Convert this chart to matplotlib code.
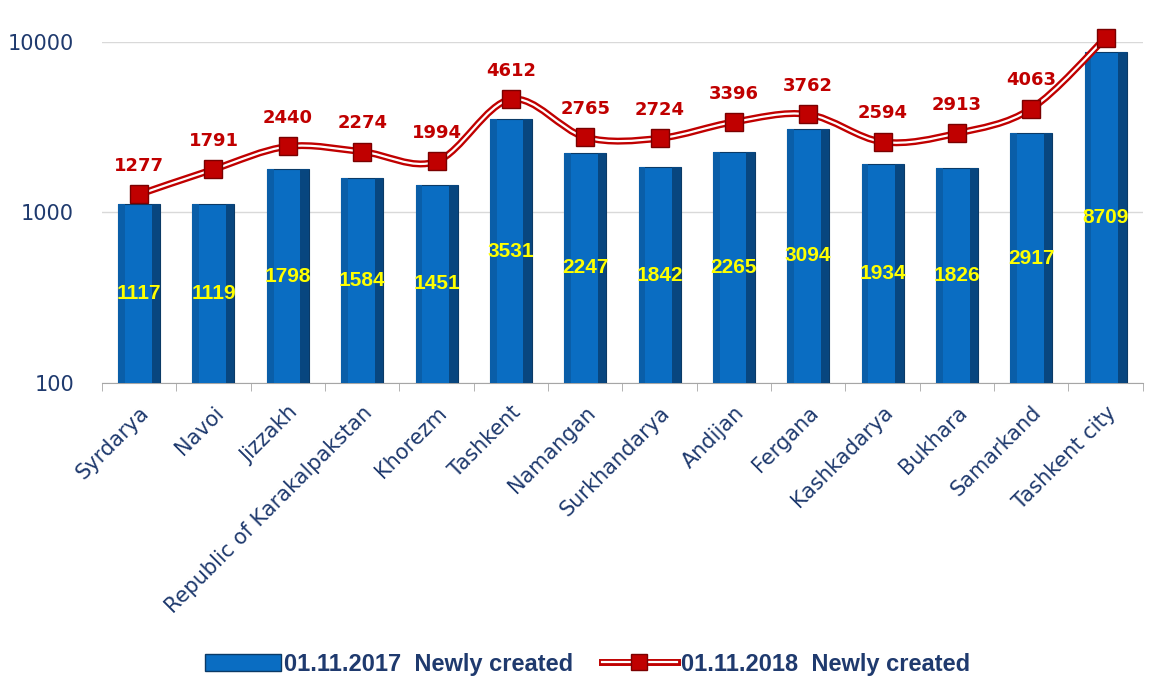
import matplotlib
matplotlib.use('Agg')
import matplotlib.pyplot as plt
import numpy as np
from matplotlib.path import Path
from matplotlib.patches import PathPatch, Patch
from matplotlib.lines import Line2D

# data
regions = ['Syrdarya', 'Navoi', 'Jizzakh', 'Republic of Karakalpakstan', 'Khorezm', 'Tashkent',
           'Namangan', 'Surkhandarya', 'Andijan', 'Fergana', 'Kashkadarya', 'Bukhara',
           'Samarkand', 'Tashkent city']
new_2017 = [1117, 1119, 1798, 1584, 1451, 3531, 2247, 1842, 2265, 3094, 1934, 1826, 2917, 8709]
new_2018 = [1277, 1791, 2440, 2274, 1994, 4612, 2765, 2724, 3396, 3762, 2594, 2913, 4063, 10585]
label_2017 = '01.11.2017  Newly created'
label_2018 = '01.11.2018  Newly created'

navy = '#1F3A6E'
red = '#C00000'

fig = plt.figure(figsize=(11.52, 6.86), dpi=100)
ax = fig.add_axes([0.0885, 0.4417, 0.9035, 0.4971])
ax.set_yscale('log')
ax.set_ylim(100, 10000)
ax.set_xlim(-0.5, len(regions) - 0.5)

x = np.arange(len(regions))
w = 0.565

# bars with a bit of bevel shading
ax.bar(x, new_2017, width=w, color='#0A6DC2', edgecolor='#0B3A66', linewidth=0.8, zorder=2)
ax.bar(x + w * 0.40, new_2017, width=w * 0.20, color='#08467F', linewidth=0, zorder=2.1)
ax.bar(x - w * 0.42, new_2017, width=w * 0.16, color='#0A5EA8', linewidth=0, zorder=2.1)

# yellow labels in the log-middle of each bar
for xi, v in zip(x, new_2017):
    ax.text(xi, np.sqrt(100 * v), str(v), ha='center', va='center', color='#FFFF00',
            fontsize=15, fontweight='bold', family=['Liberation Sans', 'DejaVu Sans'],
            zorder=4)

# smoothed line (bezier through the points, in log space)
ly = np.log10(new_2018)
pts = np.column_stack([x, ly])
verts = [pts[0]]
codes = [Path.MOVETO]
n = len(pts)
for i in range(n - 1):
    p0 = pts[max(i - 1, 0)]
    p1 = pts[i]
    p2 = pts[i + 1]
    p3 = pts[min(i + 2, n - 1)]
    c1 = p1 + (p2 - p0) / 6
    c2 = p2 - (p3 - p1) / 6
    verts += [c1, c2, p2]
    codes += [Path.CURVE4] * 3
verts = np.array(verts)
verts[:, 1] = 10 ** verts[:, 1]
path = Path(verts, codes)
ax.add_patch(PathPatch(path, facecolor='none', edgecolor=red, lw=5, zorder=3, clip_on=False))
ax.add_patch(PathPatch(path, facecolor='none', edgecolor='white', lw=1.6, zorder=3.1, clip_on=False))
ax.plot(x, new_2018, linestyle='none', marker='s', markersize=12.5, markerfacecolor=red,
        markeredgecolor='#7A0000', markeredgewidth=1, zorder=5, clip_on=False)

for xi, v in zip(x, new_2018):
    ax.annotate(str(v), (xi, v), xytext=(0, 14), textcoords='offset points', ha='center',
                va='bottom', color=red, fontsize=13, fontweight='bold', zorder=6)

# axes styling
ax.grid(axis='y', which='major', color='#D9D9D9', lw=1, zorder=0)
for s in ['left', 'top', 'right']:
    ax.spines[s].set_visible(False)
ax.spines['bottom'].set_color('#A6A6A6')
ax.spines['bottom'].set_zorder(1)
ax.set_yticks([100, 1000, 10000])
ax.set_yticklabels(['100', '1000', '10000'])
ax.yaxis.set_minor_locator(matplotlib.ticker.NullLocator())
ax.tick_params(axis='y', length=0, labelsize=15, labelcolor=navy, pad=20)
ax.set_xticks(x)
ax.set_xticklabels(regions, rotation=45, ha='right', rotation_mode='anchor',
                   fontsize=15, color=navy)
ax.tick_params(axis='x', which='major', length=0, pad=14)
ax.set_xticks(np.arange(-0.5, len(regions)), minor=True)
ax.tick_params(axis='x', which='minor', length=6, color='#A6A6A6')

# legend
h1 = Patch(facecolor='#0A6DC2', edgecolor='#0B3A66')
h2a = Line2D([], [], color=red, lw=5)
h2b = Line2D([], [], color='white', lw=1.6)
h2c = Line2D([], [], linestyle='none', marker='s', markersize=12, markerfacecolor=red,
             markeredgecolor='#7A0000')
leg = fig.legend([h1, (h2a, h2b, h2c)], [label_2017, label_2018], loc='lower center',
                 bbox_to_anchor=(0.51, -0.016), ncol=2, frameon=False, columnspacing=1.2,
                 handlelength=3.2, handletextpad=0.15,
                 prop={'family': ['Liberation Sans', 'DejaVu Sans'], 'weight': 'bold', 'size': 17})
for t in leg.get_texts():
    t.set_color(navy)

fig.savefig('out.png', dpi=100)
